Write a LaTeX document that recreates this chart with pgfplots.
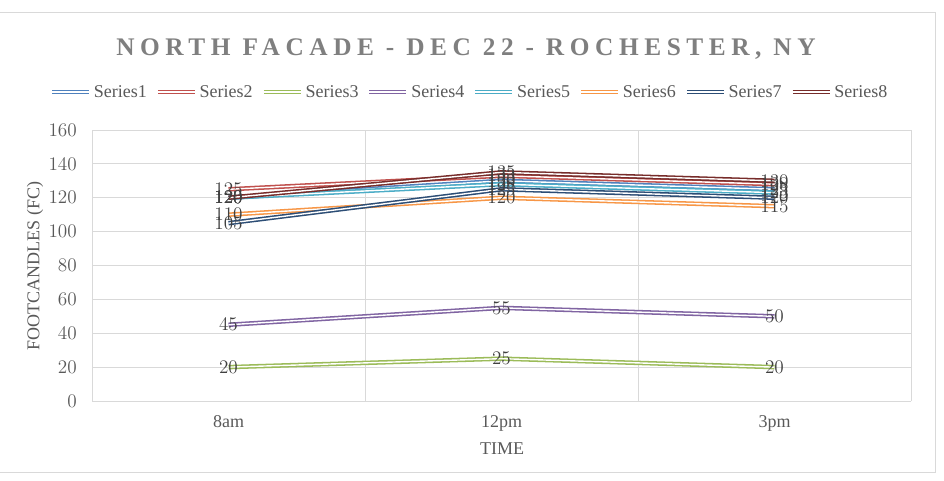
\documentclass[border=0pt]{standalone}
\usepackage{fontspec}
\setmainfont{Liberation Serif}
\newfontfamily\titlefont[LetterSpace=22]{Liberation Serif}
\usepackage{pgfplots}
\pgfplotsset{compat=1.18}

\definecolor{sA}{HTML}{4F81BD}
\definecolor{sB}{HTML}{C0504D}
\definecolor{sC}{HTML}{9BBB59}
\definecolor{sD}{HTML}{8064A2}
\definecolor{sE}{HTML}{4BACC6}
\definecolor{sF}{HTML}{F79646}
\definecolor{sG}{HTML}{2C4D75}
\definecolor{sH}{HTML}{772C2A}
\definecolor{gridgray}{HTML}{D9D9D9}
\definecolor{textgray}{HTML}{595959}
\definecolor{labelgray}{HTML}{404040}
\definecolor{titlegray}{HTML}{7F7F7F}

% readings at 8am, 12pm, 3pm
\pgfplotstableread{
t s1  s2  s3 s4 s5  s6  s7  s8
1 120 125 20 45 120 110 105 120
2 130 133 25 55 128 120 125 135
3 125 128 20 50 123 115 120 130
}\readings

\newcommand{\chartfont}{\fontsize{13.5}{16}\selectfont}

\begin{document}
\begin{tikzpicture}[x=0.75pt,y=0.75pt]
\path[use as bounding box] (0,0) rectangle (944,480);
\draw[gridgray] (-2,8) rectangle (935,468);

\node[font=\titlefont\bfseries\fontsize{19}{22}\selectfont, text=titlegray, anchor=base] at (466,425) {NORTH FACADE - DEC 22 - ROCHESTER, NY};
\node[font=\chartfont, text=textgray, rotate=90] at (35,214) {FOOTCANDLES (FC)};
\node[font=\chartfont, text=textgray] at (502,31.5) {TIME};

\begin{axis}[
  at={(69pt,59.25pt)}, anchor=south west,
  scale only axis, width=614.25pt, height=203.25pt,
  xmin=0.5, xmax=3.5, ymin=0, ymax=160,
  xtick={1,2,3}, xticklabels={8am,12pm,3pm},
  minor xtick={0.5,1.5,2.5,3.5},
  ytick={0,20,...,160},
  ymajorgrids, xminorgrids,
  grid style={gridgray, line width=0.6pt},
  minor grid style={gridgray, line width=0.6pt},
  major tick length=0pt, minor tick length=0pt,
  axis line style={draw=none},
  tick label style={font=\chartfont, text=textgray},
  xticklabel style={anchor=base, inner sep=0pt, yshift=-19.5pt},
  yticklabel style={anchor=east, inner sep=0pt, xshift=-11.25pt},
  legend columns=8,
  legend style={draw=none, fill=none, at={(0.4615,1.140)}, anchor=center,
    font=\chartfont, text=textgray,
    /tikz/every even column/.append style={column sep=4.5pt}},
  legend image code/.code={\draw[#1] (0pt,0pt) -- (27.75pt,0pt);},
  every axis plot/.append style={line width=1.15pt, double=white, double distance=1.05pt, mark=none},
]
\addplot[sA] table[x=t, y=s1] {\readings}; \addlegendentry{Series1}
\addplot[sB] table[x=t, y=s2] {\readings}; \addlegendentry{Series2}
\addplot[sC] table[x=t, y=s3] {\readings}; \addlegendentry{Series3}
\addplot[sD] table[x=t, y=s4] {\readings}; \addlegendentry{Series4}
\addplot[sE] table[x=t, y=s5] {\readings}; \addlegendentry{Series5}
\addplot[sF] table[x=t, y=s6] {\readings}; \addlegendentry{Series6}
\addplot[sG] table[x=t, y=s7] {\readings}; \addlegendentry{Series7}
\addplot[sH] table[x=t, y=s8] {\readings}; \addlegendentry{Series8}

% value labels on top of all lines
\pgfplotsset{every node near coord/.style={font=\chartfont, text=labelgray, anchor=center, inner sep=0pt}}
\foreach \s in {s1,s2,s3,s4,s5,s6,s7,s8}{
  \addplot[draw=none, double=none, forget plot, nodes near coords, point meta=y] table[x=t, y=\s] {\readings};
}
\end{axis}
\end{tikzpicture}
\end{document}
